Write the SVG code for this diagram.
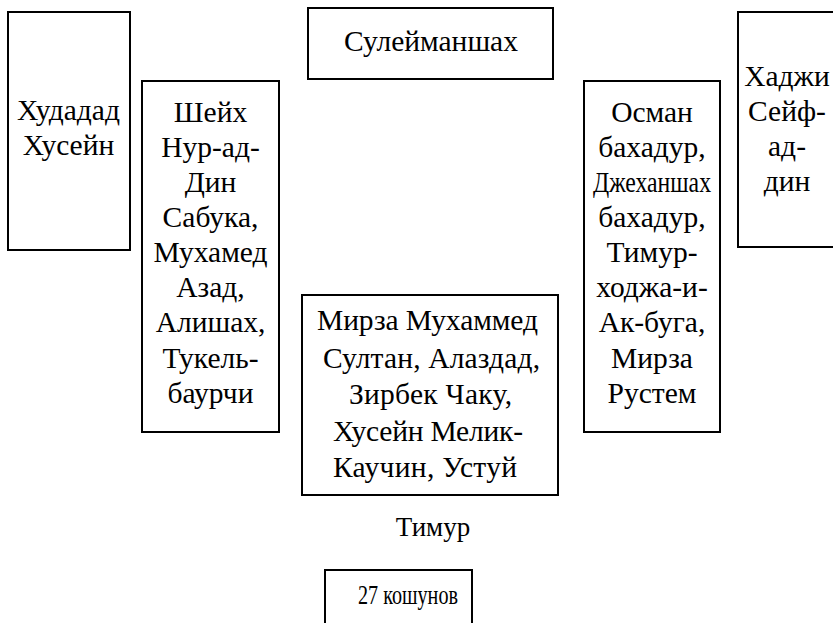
<svg xmlns="http://www.w3.org/2000/svg" width="833" height="623" viewBox="0 0 833 623">
<style>
rect.box { fill: #fff; stroke: #000; stroke-width: 2; }
text { font-family: "Liberation Serif", "Times New Roman", serif; font-size: 29.5px; fill: #000; text-anchor: middle; }
</style>
<rect width="833" height="623" fill="#fff"/>
<g id="connectors"></g>
<g id="n-khudadad">
<rect class="box" x="8" y="12" width="122" height="238"/>
<text x="68.5" y="120">Худадад</text>
<text x="68.5" y="155">Хусейн</text>
</g>
<g id="n-sheikh">
<rect class="box" x="142" y="81" width="137" height="351"/>
<text x="210.5" y="122">Шейх</text>
<text x="210.5" y="157">Нур-ад-</text>
<text x="210.5" y="192">Дин</text>
<text x="210.5" y="227">Сабука,</text>
<text x="210.5" y="262">Мухамед</text>
<text x="210.5" y="297">Азад,</text>
<text x="210.5" y="332">Алишах,</text>
<text x="210.5" y="368">Тукель-</text>
<text x="210.5" y="403">баурчи</text>
</g>
<g id="n-suleimanshah">
<rect class="box" x="308" y="8" width="245" height="71"/>
<text x="431" y="51">Сулейманшах</text>
</g>
<g id="n-mirza">
<rect class="box" x="302" y="295" width="256" height="200"/>
<text x="427.5" y="330" textLength="221" lengthAdjust="spacing">Мирза Мухаммед</text>
<text x="431.5" y="368" textLength="217" lengthAdjust="spacing">Султан, Алаздад,</text>
<text x="430.5" y="404" textLength="163" lengthAdjust="spacing">Зирбек Чаку,</text>
<text x="428" y="441" textLength="190" lengthAdjust="spacing">Хусейн Мелик-</text>
<text x="425" y="477" textLength="184" lengthAdjust="spacing">Каучин, Устуй</text>
</g>
<g id="n-timur">
<text x="433" y="536" style="font-size:27px">Тимур</text>
</g>
<g id="n-kushuns">
<rect class="box" x="325" y="570" width="147" height="70"/>
<text x="408" y="604" style="font-size:27px" textLength="100" lengthAdjust="spacingAndGlyphs">27 кошунов</text>
</g>
<g id="n-osman">
<rect class="box" x="584" y="81" width="136" height="351"/>
<text x="652" y="122">Осман</text>
<text x="652" y="157">бахадур,</text>
<text x="652" y="192" textLength="118" lengthAdjust="spacingAndGlyphs">Джеханшах</text>
<text x="652" y="227">бахадур,</text>
<text x="652" y="262">Тимур-</text>
<text x="652" y="297">ходжа-и-</text>
<text x="652" y="332">Ак-буга,</text>
<text x="652" y="368">Мирза</text>
<text x="652" y="403">Рустем</text>
</g>
<g id="n-hadji">
<rect class="box" x="738" y="12" width="100" height="235"/>
<text x="787" y="86">Хаджи</text>
<text x="787" y="121">Сейф-</text>
<text x="787" y="156">ад-</text>
<text x="787" y="191">дин</text>
</g>
</svg>
